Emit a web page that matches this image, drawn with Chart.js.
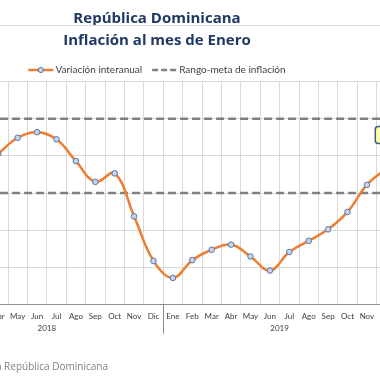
<!DOCTYPE html>
<html lang="es">
<head>
<meta charset="utf-8">
<script src="https://cdn.jsdelivr.net/npm/chart.js@4.4.1/dist/chart.umd.min.js"></script>
<style>
  html, body { margin: 0; padding: 0; background: #fff; width: 380px; height: 380px; overflow: hidden; }
  #marco { position: relative; width: 380px; height: 380px; overflow: hidden; }
  #grafico { position: absolute; left: -110px; top: 0; }
</style>
</head>
<body>
<div id="marco"><canvas id="grafico" width="534" height="380"></canvas></div>
<script>
// --- datos ---
const meses = ['Ene', 'Feb', 'Mar', 'Abr', 'May', 'Jun', 'Jul', 'Ago', 'Sep', 'Oct', 'Nov', 'Dic'];
const anios = ['2018', '2019'];
const variacionInteranual = [
  null, null, null, 4.06, 4.49, 4.64, 4.45, 3.86, 3.30, 3.53, 2.37, 1.17,
  0.71, 1.19, 1.47, 1.61, 1.29, 0.91, 1.41, 1.71, 2.02, 2.49, 3.22, 3.66
];
const metaSuperior = [5, 5, 5, 5, 5, 5, 5, 5, 5, 5, 5, 5, 5, 5, 5, 5, 5, 5, 5, 5, 5, 5, 5, 5];
const metaInferior = [3, 3, 3, 3, 3, 3, 3, 3, 3, 3, 3, 3, 3, 3, 3, 3, 3, 3, 3, 3, 3, 3, 3, 3];
const ejeY = { min: 0, max: 6, paso: 1 };
const titulo = 'República Dominicana';
const subtitulo = 'Inflación al mes de Enero';
const leyendaSerie = 'Variación interanual';
const leyendaMeta = 'Rango-meta de inflación';
const fuente = 'Fuente: Banco Central de la República Dominicana';
const etiquetaFinal = '3.66';

const etiquetas = anios.flatMap(() => meses);

// --- colores ---
const NARANJA = '#ed7d31';
const GRIS_META = '#7f7f7f';
const MARCADOR_FONDO = '#c7d3e6';
const MARCADOR_BORDE = '#5877a6';
const GRID = '#d9d9d9';
const AZUL_TITULO = '#1f3864';

Chart.defaults.font.family = 'Lato';

// encabezado, leyenda y fuente
const encabezado = {
  id: 'encabezado',
  afterDraw(chart) {
    const { ctx, width } = chart;
    const cx = width / 2;
    ctx.save();
    ctx.fillStyle = AZUL_TITULO;
    ctx.textAlign = 'center';
    ctx.textBaseline = 'alphabetic';
    ctx.font = 'bold 15px "Open Sans"';
    ctx.fillText(titulo, cx, 22.5);
    ctx.fillText(subtitulo, cx, 45);

    ctx.strokeStyle = '#dcdcdc';
    ctx.lineWidth = 1;
    ctx.beginPath();
    ctx.moveTo(0, 25.5);
    ctx.lineTo(width, 25.5);
    ctx.stroke();

    // leyenda
    ctx.font = '10px Lato';
    const largo = 25, sep = 2, entre = 10;
    const w1 = ctx.measureText(leyendaSerie).width;
    const w2 = ctx.measureText(leyendaMeta).width;
    const total = largo + sep + w1 + entre + largo + sep + w2;
    let x = cx - total / 2;
    const y = 70;
    ctx.lineWidth = 2.5;
    ctx.strokeStyle = NARANJA;
    ctx.beginPath();
    ctx.moveTo(x, y);
    ctx.lineTo(x + largo, y);
    ctx.stroke();
    ctx.beginPath();
    ctx.arc(x + largo / 2, y, 2.6, 0, Math.PI * 2);
    ctx.fillStyle = MARCADOR_FONDO;
    ctx.fill();
    ctx.lineWidth = 1;
    ctx.strokeStyle = MARCADOR_BORDE;
    ctx.stroke();
    x += largo + sep;
    ctx.fillStyle = '#404040';
    ctx.textAlign = 'left';
    ctx.textBaseline = 'middle';
    ctx.fillText(leyendaSerie, x, y);
    x += w1 + entre;
    ctx.strokeStyle = GRIS_META;
    ctx.lineWidth = 2.5;
    ctx.setLineDash([6, 3]);
    ctx.beginPath();
    ctx.moveTo(x, y);
    ctx.lineTo(x + largo, y);
    ctx.stroke();
    ctx.setLineDash([]);
    x += largo + sep;
    ctx.fillText(leyendaMeta, x, y);

    // fuente
    ctx.font = '10px "Open Sans"';
    ctx.fillStyle = '#808080';
    ctx.textAlign = 'right';
    ctx.fillText(fuente, 218, 367);
    ctx.restore();
  }
};

// segundo nivel del eje: años y separadores
const ejeAnios = {
  id: 'ejeAnios',
  afterDraw(chart) {
    const { ctx } = chart;
    const xs = chart.scales.x;
    const paso = xs.getPixelForValue(1) - xs.getPixelForValue(0);
    const base = chart.chartArea.bottom;
    ctx.save();
    ctx.strokeStyle = '#8c8c8c';
    ctx.lineWidth = 1;
    ctx.fillStyle = '#404040';
    ctx.font = '8px Lato';
    ctx.textAlign = 'center';
    ctx.textBaseline = 'middle';
    anios.forEach((anio, k) => {
      const i0 = k * meses.length;
      const i1 = i0 + meses.length - 1;
      const izq = xs.getPixelForValue(i0) - paso / 2;
      const der = xs.getPixelForValue(i1) + paso / 2;
      ctx.fillText(anio, (izq + der) / 2, base + 24);
      [izq, der].forEach(px => {
        ctx.beginPath();
        ctx.moveTo(Math.round(px) + 0.5, base);
        ctx.lineTo(Math.round(px) + 0.5, base + 29);
        ctx.stroke();
      });
    });
    ctx.restore();
  }
};

// etiqueta del último punto
const etiquetaUltimo = {
  id: 'etiquetaUltimo',
  afterDatasetsDraw(chart) {
    const meta = chart.getDatasetMeta(0);
    const p = meta.data[meta.data.length - 1];
    if (!p) return;
    const { ctx } = chart;
    const w = 22, h = 17;
    const x = p.x - w / 2, y = p.y - 25 - h;
    ctx.save();
    ctx.beginPath();
    ctx.roundRect(x, y, w, h, 3);
    ctx.fillStyle = '#ffffa6';
    ctx.fill();
    ctx.lineWidth = 1.5;
    ctx.strokeStyle = '#3b5b8c';
    ctx.stroke();
    ctx.fillStyle = '#404040';
    ctx.font = '8px Lato';
    ctx.textAlign = 'center';
    ctx.textBaseline = 'middle';
    ctx.fillText(etiquetaFinal, p.x + 4, y + h / 2);
    ctx.restore();
  }
};

new Chart(document.getElementById('grafico'), {
  type: 'line',
  data: {
    labels: etiquetas,
    datasets: [
      {
        label: leyendaSerie,
        data: variacionInteranual,
        borderColor: NARANJA,
        borderWidth: 2.5,
        tension: 0.4,
        pointRadius: 2.8,
        pointBackgroundColor: MARCADOR_FONDO,
        pointBorderColor: MARCADOR_BORDE,
        pointBorderWidth: 1,
        order: 0
      },
      {
        label: leyendaMeta,
        data: metaSuperior,
        borderColor: GRIS_META,
        borderWidth: 2.5,
        borderDash: [8, 4],
        pointRadius: 0,
        order: 1
      },
      {
        label: leyendaMeta,
        data: metaInferior,
        borderColor: GRIS_META,
        borderWidth: 2.5,
        borderDash: [8, 4],
        pointRadius: 0,
        order: 2
      }
    ]
  },
  options: {
    responsive: false,
    animation: false,
    layout: { padding: { top: 81.7, left: 40.4, right: 28, bottom: 0 } },
    plugins: { legend: { display: false }, tooltip: { enabled: false } },
    scales: {
      x: {
        offset: true,
        grid: { offset: true, color: GRID, drawTicks: false },
        border: { color: '#8c8c8c' },
        ticks: { autoSkip: false, maxRotation: 0, color: '#404040', font: { size: 8 }, padding: 7 },
        afterFit: s => { s.height = 75.7; }
      },
      y: {
        min: ejeY.min,
        max: ejeY.max,
        ticks: { stepSize: ejeY.paso, display: false },
        grid: { color: GRID, drawTicks: false },
        border: { display: false },
        afterFit: s => { s.width = 0; }
      }
    }
  },
  plugins: [encabezado, ejeAnios, etiquetaUltimo]
});
</script>
</body>
</html>
